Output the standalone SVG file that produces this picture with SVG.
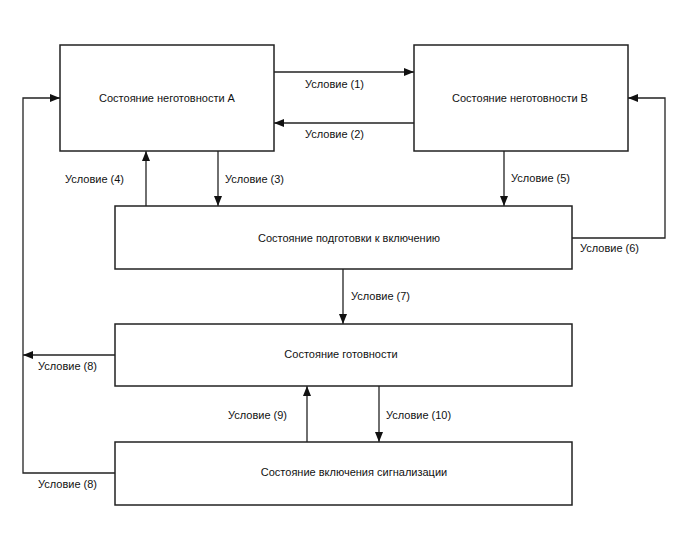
<svg xmlns="http://www.w3.org/2000/svg" width="688" height="560" viewBox="0 0 688 560">
<style>
.box{fill:#fff;stroke:#222;stroke-width:1.5}
.t{font-family:"Liberation Sans",Arial,sans-serif;font-size:11px;fill:#111}
.c{text-anchor:middle}
.ln{fill:none;stroke:#222;stroke-width:1.3}
</style>
<defs>
<marker id="ah" viewBox="0 0 10 8" refX="10" refY="4" markerWidth="10" markerHeight="8" markerUnits="userSpaceOnUse" orient="auto">
<path d="M0,0 L10,4 L0,8 Z" fill="#111"/>
</marker>
</defs>
<rect width="688" height="560" fill="#fff"/>
<g id="connectors">
<path class="ln" d="M274,72 H414" marker-end="url(#ah)"/>
<path class="ln" d="M414,123 H274" marker-end="url(#ah)"/>
<path class="ln" d="M218,151 V206" marker-end="url(#ah)"/>
<path class="ln" d="M146,206 V151" marker-end="url(#ah)"/>
<path class="ln" d="M504,151 V206" marker-end="url(#ah)"/>
<path class="ln" d="M572,238 H665 V98 H628" marker-end="url(#ah)"/>
<path class="ln" d="M343,269 V324" marker-end="url(#ah)"/>
<path class="ln" d="M115,355 H23" marker-end="url(#ah)"/>
<path class="ln" d="M115,473 H23 V98 H60" marker-end="url(#ah)"/>
<path class="ln" d="M307,442 V386" marker-end="url(#ah)"/>
<path class="ln" d="M379,386 V442" marker-end="url(#ah)"/>
<text class="t" x="305" y="88">Условие (1)</text>
<text class="t" x="305" y="138">Условие (2)</text>
<text class="t" x="65" y="183">Условие (4)</text>
<text class="t" x="225" y="183">Условие (3)</text>
<text class="t" x="511" y="182">Условие (5)</text>
<text class="t" x="580" y="252">Условие (6)</text>
<text class="t" x="351" y="300">Условие (7)</text>
<text class="t" x="38" y="370">Условие (8)</text>
<text class="t" x="228" y="419">Условие (9)</text>
<text class="t" x="386" y="419">Условие (10)</text>
<text class="t" x="38" y="488">Условие (8)</text>
</g>
<g id="nodeA">
<rect class="box" x="60" y="45" width="214" height="106"/>
<text class="t c" x="167" y="102">Состояние неготовности А</text>
</g>
<g id="nodeB">
<rect class="box" x="414" y="45" width="214" height="106"/>
<text class="t c" x="520" y="102">Состояние неготовности В</text>
</g>
<g id="nodePrep">
<rect class="box" x="115" y="206" width="457" height="63"/>
<text class="t c" x="349" y="242">Состояние подготовки к включению</text>
</g>
<g id="nodeReady">
<rect class="box" x="115" y="324" width="457" height="62"/>
<text class="t c" x="341" y="358">Состояние готовности</text>
</g>
<g id="nodeAlarm">
<rect class="box" x="115" y="442" width="457" height="63"/>
<text class="t c" x="354" y="476">Состояние включения сигнализации</text>
</g>
</svg>
